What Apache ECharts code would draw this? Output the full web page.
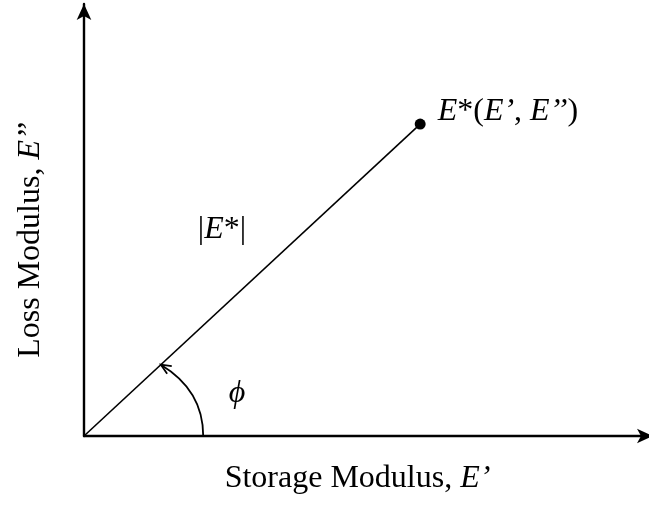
<!DOCTYPE html>
<html>
<head>
<meta charset="utf-8">
<script src="https://cdn.jsdelivr.net/npm/echarts@6/dist/echarts.min.js"></script>
<style>
  html, body { margin: 0; padding: 0; background: #fff; }
  #chart { width: 649px; height: 510px; }
</style>
</head>
<body>
<div id="chart"></div>
<script>
// Complex modulus E* drawn as a vector in the (E', E'') plane
const storageModulus = [59.5];   // E'
const lossModulus = [72.2];      // E''
const axisRangeX = [0, 100];
const axisRangeY = [0, 100];
// phase-angle arc: start on the E' axis, bezier control point, end on the vector
const phaseArc = [[21.1, 0], [21.1, 10.6], [13.6, 16.5]];

const FONT = '"Liberation Serif", "Times New Roman", serif';
const FS = 32;
const richItalic = {
  i: { fontFamily: FONT, fontStyle: 'italic', fontSize: FS, color: '#000' }
};

const vector = [[0, 0], [storageModulus[0], lossModulus[0]]];

const chart = echarts.init(document.getElementById('chart'), null, { renderer: 'canvas' });

function axisStyle(endOffset) {
  return {
    type: 'value',
    axisLine: {
      show: true,
      onZero: false,
      symbol: ['none', 'arrow'],
      symbolSize: [11, 16],
      symbolOffset: [0, endOffset],
      lineStyle: { color: '#000', width: 2.4 }
    },
    axisTick: { show: false },
    axisLabel: { show: false },
    splitLine: { show: false }
  };
}

chart.setOption({
  animation: false,
  backgroundColor: '#fff',
  grid: { left: 84, right: 0, top: 4, bottom: 74 },
  xAxis: Object.assign(axisStyle(4), { min: axisRangeX[0], max: axisRangeX[1] }),
  yAxis: Object.assign(axisStyle(0), { min: axisRangeY[0], max: axisRangeY[1] }),
  graphic: [
    {
      type: 'text',
      x: 357.5, y: 479,
      style: {
        text: "Storage Modulus, {i|E’}",
        fontFamily: FONT, fontSize: FS, fill: '#000',
        align: 'center', verticalAlign: 'middle',
        rich: richItalic
      }
    },
    {
      type: 'text',
      x: 31, y: 240,
      rotation: Math.PI / 2,
      style: {
        text: "Loss Modulus, {i|E’’}",
        fontFamily: FONT, fontSize: FS, fill: '#000',
        align: 'center', verticalAlign: 'middle',
        rich: richItalic
      }
    },
    {
      type: 'text',
      x: 222, y: 230,
      style: {
        text: "|{i|E}*|",
        fontFamily: FONT, fontSize: FS, fill: '#000',
        align: 'center', verticalAlign: 'middle',
        rich: richItalic
      }
    },
    {
      type: 'text',
      x: 237, y: 394,
      style: {
        text: "ϕ",
        fontFamily: FONT, fontStyle: 'italic', fontSize: FS, fill: '#000',
        align: 'center', verticalAlign: 'middle'
      }
    }
  ],
  series: [
    {
      type: 'line',
      data: vector,
      symbol: 'none',
      lineStyle: { color: '#000', width: 1.6 },
      silent: true
    },
    {
      type: 'scatter',
      data: [[storageModulus[0], lossModulus[0]]],
      symbol: 'circle',
      symbolSize: 11,
      itemStyle: { color: '#000', opacity: 1 },
      label: {
        show: true,
        position: 'right',
        distance: 12,
        offset: [0, -13],
        formatter: "{i|E}*({i|E’}, {i|E’’})",
        fontFamily: FONT, fontSize: FS, color: '#000', opacity: 1,
        rich: richItalic
      },
      silent: true
    },
    {
      type: 'custom',
      silent: true,
      data: [[0, 0]],
      renderItem: function (params, api) {
        const p0 = api.coord(phaseArc[0]);
        const c = api.coord(phaseArc[1]);
        const p1 = api.coord(phaseArc[2]);
        const dx = p1[0] - c[0], dy = p1[1] - c[1];
        const len = Math.hypot(dx, dy);
        const ux = -dx / len, uy = -dy / len;
        const L = 11, a = 24 * Math.PI / 180;
        const rot = (x, y, t) => [x * Math.cos(t) - y * Math.sin(t), x * Math.sin(t) + y * Math.cos(t)];
        const b1 = rot(ux, uy, a), b2 = rot(ux, uy, -a);
        return {
          type: 'group',
          children: [
            {
              type: 'bezierCurve',
              shape: { x1: p0[0], y1: p0[1], x2: p1[0], y2: p1[1], cpx1: c[0], cpy1: c[1] },
              style: { stroke: '#000', lineWidth: 1.8, fill: null }
            },
            {
              type: 'polyline',
              shape: { points: [[p1[0] + b1[0] * L, p1[1] + b1[1] * L], p1, [p1[0] + b2[0] * L, p1[1] + b2[1] * L]] },
              style: { stroke: '#000', lineWidth: 1.8, fill: null }
            }
          ]
        };
      }
    }
  ]
});
</script>
</body>
</html>
